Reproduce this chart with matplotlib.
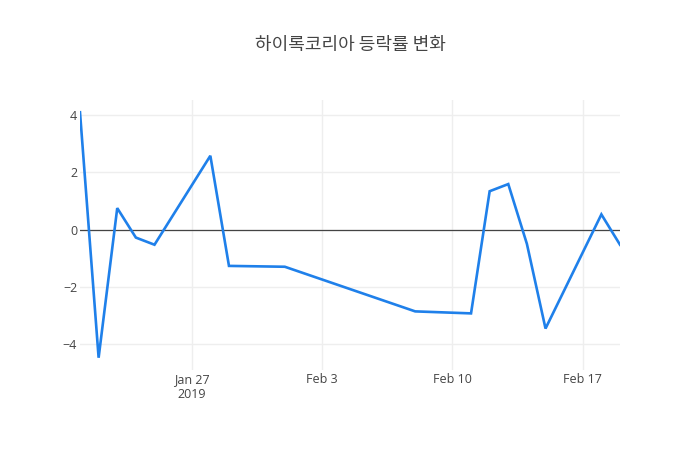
import matplotlib
matplotlib.use("Agg")
import matplotlib.pyplot as plt
import matplotlib.dates as mdates
import numpy as np
import pandas as pd

dates = ["2019-01-21", "2019-01-22", "2019-01-23", "2019-01-24", "2019-01-25",
         "2019-01-28", "2019-01-29", "2019-02-01", "2019-02-08", "2019-02-11",
         "2019-02-12", "2019-02-13", "2019-02-14", "2019-02-15", "2019-02-18",
         "2019-02-19"]
values = [4.10, -4.48, 0.75, -0.28, -0.53,
          2.58, -1.27, -1.30, -2.86, -2.93,
          1.34, 1.59, -0.50, -3.46, 0.53,
          -0.53]
title = "하이록코리아 등락률 변화"
tick_dates = ["2019-01-27", "2019-02-03", "2019-02-10", "2019-02-17"]
tick_labels = ["Jan 27\n2019", "Feb 3", "Feb 10", "Feb 17"]
y_ticks = [-4, -2, 0, 2, 4]

x = pd.to_datetime(dates)
fig = plt.figure(figsize=(7, 4.5), dpi=100)
ax = fig.add_axes([80/700, 80/450, 540/700, 270/450])

ax.plot(x, values, color="#1f80ea", lw=1.9, solid_joinstyle="miter", zorder=3)
ax.axhline(0, color="#444444", lw=0.9, zorder=2)

ymin, ymax = min(values), max(values)
pad = (ymax - ymin) * 0.05
ax.set_ylim(ymin - pad, ymax + pad)
ax.set_xlim(x[0], x[-1])

ax.set_yticks(y_ticks)
ax.set_yticklabels([str(v).replace("-", "\u2212") for v in y_ticks])
ax.set_xticks(pd.to_datetime(tick_dates))
ax.set_xticklabels(tick_labels, linespacing=1.25)

for s in ax.spines.values():
    s.set_visible(False)
ax.grid(True, color="#eeeeee", lw=1, zorder=0)
ax.tick_params(axis="both", length=0, labelsize=9, colors="#444444")
ax.tick_params(axis="x", pad=2)
ax.tick_params(axis="y", pad=2)
for lbl in ax.get_xticklabels() + ax.get_yticklabels():
    lbl.set_fontfamily(["Open Sans", "DejaVu Sans"])

fig.text(0.5, 1 - 45/450, title, ha="center", va="center", fontsize=13,
         color="#444444", family=["Noto Sans CJK KR", "DejaVu Sans"])

fig.savefig("out.png", dpi=100, facecolor="white")
